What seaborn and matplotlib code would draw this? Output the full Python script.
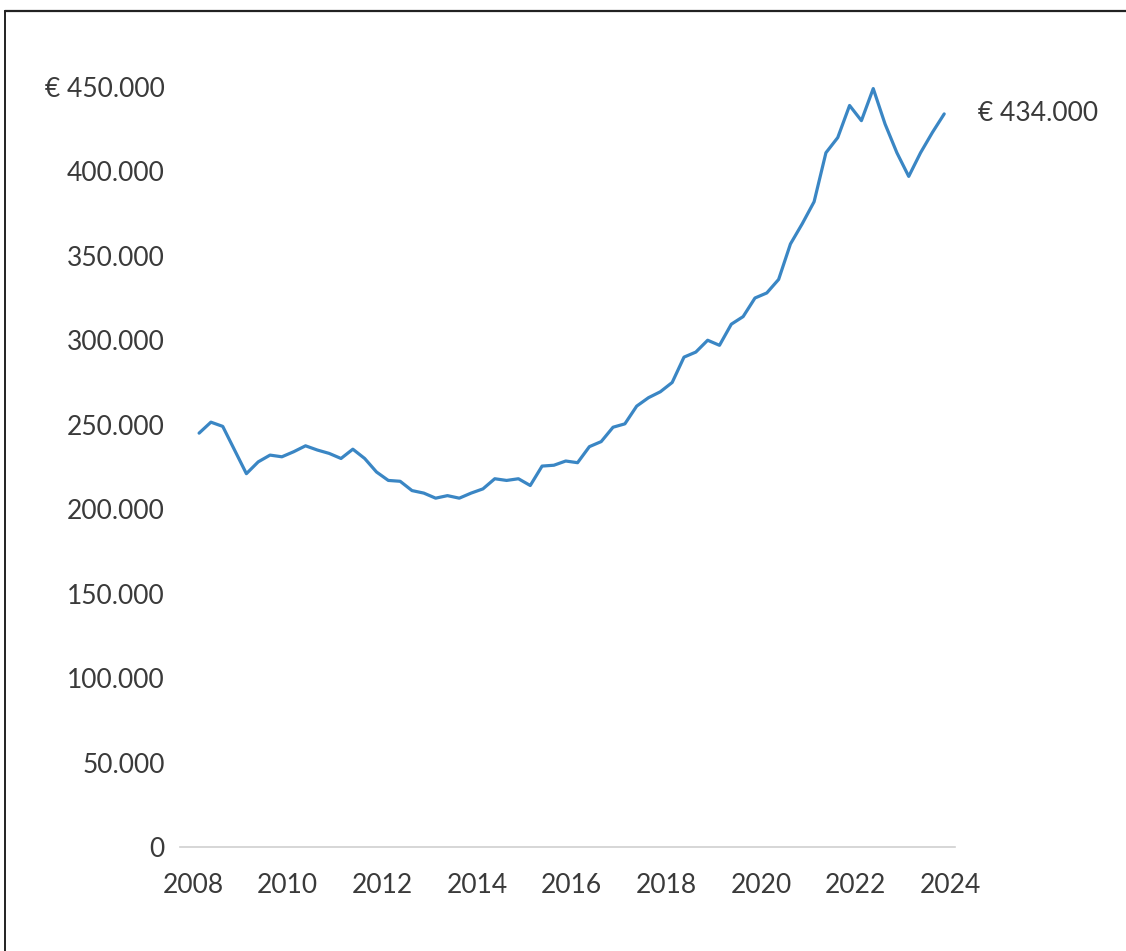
import numpy as np
import pandas as pd
import matplotlib.pyplot as plt
import seaborn as sns
from matplotlib.lines import Line2D
from matplotlib.ticker import FuncFormatter

# Quarterly average house price (EUR), 2008 Q1 - 2023 Q4
YEARS = list(range(2008, 2024))
QUARTERS = [1, 2, 3, 4]
PRICES = [
    245000, 251500, 249000, 235000,   # 2008
    221000, 228000, 232000, 231000,   # 2009
    234000, 237500, 235000, 233000,   # 2010
    230000, 235500, 230000, 222000,   # 2011
    217000, 216500, 211000, 209500,   # 2012
    206500, 208000, 206500, 209500,   # 2013
    212000, 218000, 217000, 218000,   # 2014
    214000, 225500, 226000, 228500,   # 2015
    227500, 237000, 240000, 248500,   # 2016
    250500, 261000, 266000, 269500,   # 2017
    275000, 290000, 293000, 300000,   # 2018
    297000, 309500, 314000, 325000,   # 2019
    328000, 336000, 357000, 369000,   # 2020
    382000, 411000, 420000, 439000,   # 2021
    430000, 449000, 428000, 411000,   # 2022
    397000, 411000, 423000, 434000,   # 2023
]
Y_TICKS = [0, 50000, 100000, 150000, 200000, 250000, 300000, 350000, 400000, 450000]
X_TICKS = list(range(2008, 2025, 2))
END_LABEL = "€ 434.000"

LINE_COLOR = "#3a86c4"
TEXT_COLOR = "#3a3a3a"

df = pd.DataFrame({
    "year": np.repeat(YEARS, len(QUARTERS)),
    "quarter": QUARTERS * len(YEARS),
    "price": PRICES,
})
# place each quarter at its mid-point
df["t"] = df["year"] + (df["quarter"] - 0.5) / 4

sns.set_style("white")
plt.rcParams["font.family"] = ["Lato", "DejaVu Sans"]

fig = plt.figure(figsize=(11.26, 9.51), dpi=100)
ax = fig.add_axes([0.160, 0.1094, 0.688, 0.817])

sns.lineplot(data=df, x="t", y="price", ax=ax, color=LINE_COLOR, linewidth=2.3)

ax.set_xlim(2007.725, 2024.1)
ax.set_ylim(0, 460000)
ax.set_xticks(X_TICKS)
ax.set_yticks(Y_TICKS)


def fmt_price(v, pos):
    s = f"{int(v):,}".replace(",", ".")
    return f"€ {s}" if v == Y_TICKS[-1] else s


ax.yaxis.set_major_formatter(FuncFormatter(fmt_price))
ax.set_xlabel("")
ax.set_ylabel("")

for side in ["top", "right", "left"]:
    ax.spines[side].set_visible(False)
ax.spines["bottom"].set_color("#d0d0d0")
ax.spines["bottom"].set_linewidth(1.2)

ax.tick_params(axis="x", direction="inout", length=7, width=1, color="#d0d0d0",
               pad=15, labelsize=19, labelcolor=TEXT_COLOR)
ax.tick_params(axis="y", length=0, pad=11, labelsize=19, labelcolor=TEXT_COLOR)

# end-of-line value label
last = df.iloc[-1]
ax.annotate(END_LABEL, xy=(last["t"], last["price"]), xytext=(24, 0),
            textcoords="offset points", ha="left", va="center",
            fontsize=19, color=TEXT_COLOR, annotation_clip=False)

# outer frame (top and left edges visible in the original)
fig.add_artist(Line2D([0.004, 1.0], [0.988, 0.988], transform=fig.transFigure,
                      color="#222222", linewidth=1.6))
fig.add_artist(Line2D([0.004, 0.004], [0.0, 0.988], transform=fig.transFigure,
                      color="#222222", linewidth=1.4))

fig.savefig("out.png", dpi=100, facecolor="white")
plt.close(fig)
